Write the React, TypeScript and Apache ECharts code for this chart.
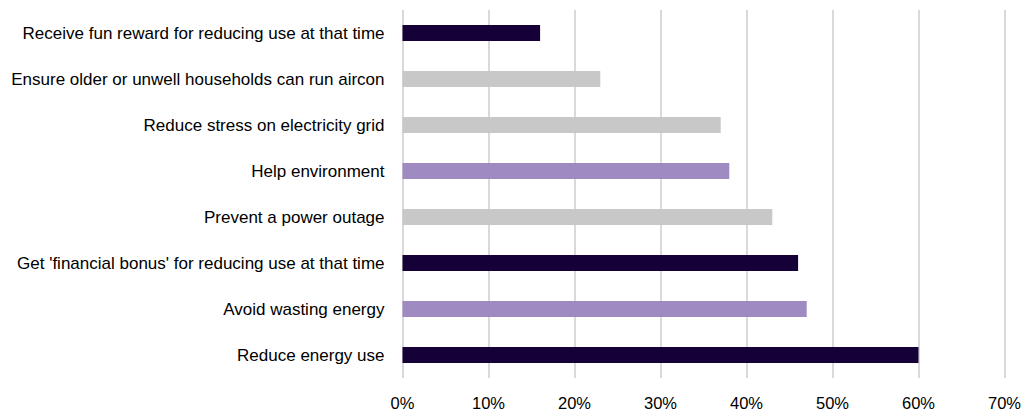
import React, { useEffect, useRef } from "react";
import * as echarts from "echarts";

// Motivations, listed bottom-to-top as drawn on the category axis
const categories = [
  "Reduce energy use",
  "Avoid wasting energy",
  "Get 'financial bonus' for reducing use at that time",
  "Prevent a power outage",
  "Help environment",
  "Reduce stress on electricity grid",
  "Ensure older or unwell households can run aircon",
  "Receive fun reward for reducing use at that time",
];

// Share of respondents (%)
const values = [60, 47, 46, 43, 38, 37, 23, 16];

// Colour group of each bar
const groups = ["dark", "lavender", "dark", "grey", "lavender", "grey", "grey", "dark"];

const palette: Record<string, string> = {
  dark: "#150037",
  lavender: "#9f8ac1",
  grey: "#c8c8c8",
};

const xTicks = [0, 10, 20, 30, 40, 50, 60, 70];

export default function App() {
  const ref = useRef<HTMLDivElement>(null);

  useEffect(() => {
    if (!ref.current) return;
    const chart = echarts.init(ref.current, null, { renderer: "svg" });
    const font = "'Liberation Sans', Arial, sans-serif";
    chart.setOption({
      animation: false,
      backgroundColor: "#ffffff",
      grid: { left: 402.5, right: 28.5, top: 10, bottom: 36, containLabel: false },
      xAxis: {
        type: "value",
        min: xTicks[0],
        max: xTicks[xTicks.length - 1],
        interval: 10,
        axisLine: { show: false },
        axisTick: { show: false },
        splitLine: { show: true, lineStyle: { color: "#d9d9d9", width: 2 } },
        axisLabel: {
          formatter: (v: number) => `${v}%`,
          color: "#000000",
          fontFamily: font,
          fontSize: 16.5,
          margin: 16,
        },
      },
      yAxis: {
        type: "category",
        data: categories,
        axisLine: { show: false },
        axisTick: { show: false },
        splitLine: { show: false },
        axisLabel: {
          color: "#000000",
          fontFamily: font,
          fontSize: 17,
          margin: 18,
        },
      },
      series: [
        {
          type: "bar",
          barWidth: 16,
          data: values.map((v, i) => ({
            value: v,
            itemStyle: { color: palette[groups[i]] },
          })),
        },
      ],
    });
    return () => chart.dispose();
  }, []);

  return (
    <div
      ref={ref}
      style={{ position: "fixed", left: 0, top: 0, width: 1033, height: 414 }}
    />
  );
}
